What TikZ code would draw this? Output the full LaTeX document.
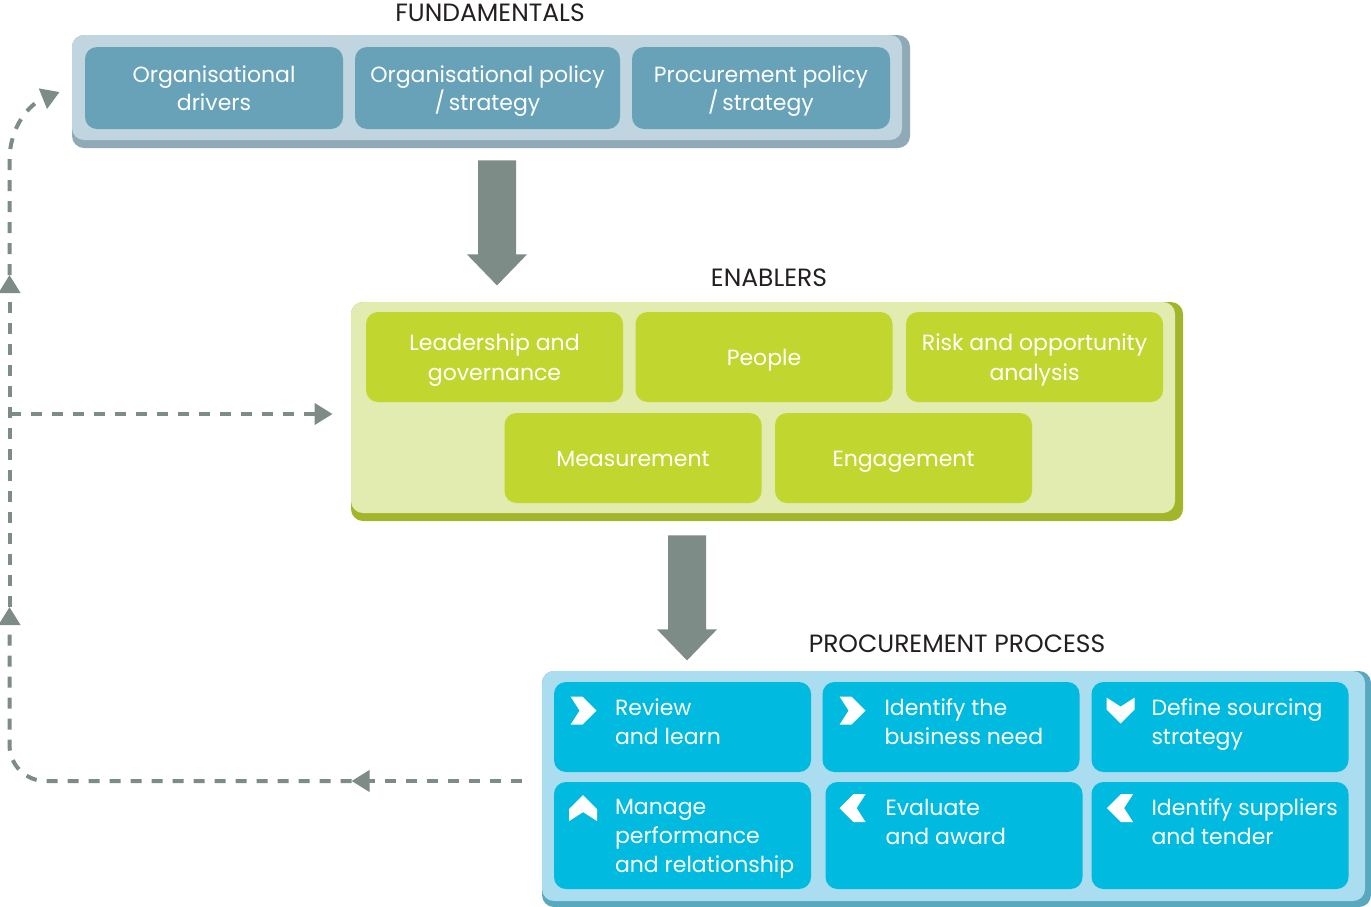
\documentclass[tikz,border=0pt]{standalone}
\usepackage{fontspec}
\setmainfont{Poppins}
\usetikzlibrary{calc}
\usetikzlibrary{arrows.meta}

\definecolor{fundLight}{HTML}{C0D5DF}
\definecolor{fundShade}{HTML}{8FA9B6}
\definecolor{fundItemFill}{HTML}{67A2B9}
\definecolor{enabLight}{HTML}{E2EBB0}
\definecolor{enabShade}{HTML}{A3B52A}
\definecolor{enabItemFill}{HTML}{C1D72F}
\definecolor{procLight}{HTML}{A9DDEF}
\definecolor{procShade}{HTML}{5AA8BE}
\definecolor{procItemFill}{HTML}{00BAE0}
\definecolor{flowGray}{HTML}{7D8C87}
\definecolor{titleInk}{HTML}{231F20}

\begin{document}
\begin{tikzpicture}[x=0.5pt, y=-0.5pt,
    heading/.style={anchor=base, inner sep=0pt, text=titleInk, font=\fontsize{12.5}{15}\selectfont},
    panel/.style={rectangle, rounded corners=6pt, inner sep=0pt},
    fundItem/.style={panel, fill=fundItemFill, text=white, align=center,
      font=\fontsize{11}{14}\selectfont, minimum width=129pt, minimum height=41pt},
    enabItem/.style={panel, fill=enabItemFill, text=white, align=center,
      font=\fontsize{11}{15}\selectfont, minimum width=128.5pt, minimum height=45pt},
    oneLine/.style={text height=8pt, text depth=0pt},
    procItem/.style={panel, fill=procItemFill, minimum width=128.5pt, minimum height=45pt},
    procText/.style={anchor=north west, inner sep=0pt, text=white, align=left,
      font=\fontsize{11}{14.5}\selectfont},
    feedback/.style={draw=flowGray, line width=2pt, dash pattern=on 5.5pt off 5pt,
      -{Triangle[length=9pt,width=10.5pt]}},
    chevron/.pic={\fill[white] (-13,-14) -- (-1,-14) -- (13,0) -- (-1,14) -- (-13,14) -- (-4,0) -- cycle;}
    ]
    \useasboundingbox (0,0) rectangle (1371,906);

    % fundamentals
    \node[panel, fill=fundShade, minimum width=419pt, minimum height=56.5pt] (fundShadow) at (491,91.5) {};
    \node[panel, fill=fundLight, minimum width=415pt, minimum height=52.5pt] (fund) at (487,87.5) {};
    \node[heading] (fundTitle) at ($(fund.north)+(3,-13)$) {FUNDAMENTALS};
    \node[fundItem] (orgDrivers) at (214,88) {Organisational\\drivers};
    \node[fundItem, minimum width=132.5pt] (orgPolicy) at (487.5,88) {Organisational policy\\\smash{/\,strategy}};
    \node[fundItem] (procPolicy) at (761,88) {Procurement policy\\\smash{/\,strategy}};

    % enablers
    \node[panel, fill=enabShade, minimum width=416pt, minimum height=109.5pt] (enabShadow) at (767,411.5) {};
    \node[panel, fill=enabLight, minimum width=412pt, minimum height=105.5pt] (enab) at (763,407.5) {};
    \node[heading] (enabTitle) at ($(enab.north)+(6,-15)$) {ENABLERS};
    \node[enabItem] (leadership) at (494.5,357) {Leadership and\\\smash{governance}};
    \node[enabItem, oneLine] (people) at (764,357) {People};
    \node[enabItem] (risk) at (1034.5,357) {Risk and opportunity\\\smash{analysis}};
    \node[enabItem, oneLine] (measurement) at (633,458) {Measurement};
    \node[enabItem, oneLine] (engagement) at (903.5,458) {Engagement};

    % procurement process
    \node[panel, fill=procShade, minimum width=414.5pt, minimum height=118pt] (procShadow) at (956.5,789) {};
    \node[panel, fill=procLight, minimum width=411.5pt, minimum height=115pt] (proc) at (953.5,786) {};
    \node[heading] (procTitle) at ($(proc.north)+(3.5,-18)$) {PROCUREMENT PROCESS};
    \node[procItem] (review) at (682.5,727) {};
    \node[procItem] (needs) at (951,727) {};
    \node[procItem] (sourcing) at (1220,727) {};
    \node[procItem, minimum height=53.5pt] (manage) at (682.5,835.5) {};
    \node[procItem, minimum height=53.5pt] (evaluate) at (954,835.5) {};
    \node[procItem, minimum height=53.5pt] (suppliers) at (1220,835.5) {};

    \node[procText] (reviewText) at ($(review.north west)+(61,17)$) {Review\\and learn};
    \node[procText] (needsText) at ($(needs.north west)+(62,17)$) {Identify the\\business need};
    \node[procText] (sourcingText) at ($(sourcing.north west)+(60,17)$) {Define sourcing\\strategy};
    \node[procText] (manageText) at ($(manage.north west)+(61,17)$) {Manage\\performance\\and relationship};
    \node[procText] (evaluateText) at ($(evaluate.north west)+(60,17)$) {Evaluate\\and award};
    \node[procText] (suppliersText) at ($(suppliers.north west)+(60,17)$) {Identify suppliers\\and tender};

    \pic at ($(review.north west)+(30,29)$) {chevron};
    \pic at ($(needs.north west)+(30.5,29)$) {chevron};
    \pic[rotate=-90] at ($(sourcing.north west)+(29.5,29)$) {chevron};
    \pic[rotate=90] at ($(manage.north west)+(29.5,26.5)$) {chevron};
    \pic[rotate=180] at ($(evaluate.north west)+(27.5,26.5)$) {chevron};
    \pic[rotate=180] at ($(suppliers.north west)+(29,26.5)$) {chevron};

    % block arrows
    \coordinate (drop1) at ($(fund.south)+(10,20)$);
    \coordinate (drop2) at ($(enab.south)+(-76,22)$);
    \fill[flowGray] (drop1) ++(-19,0) -- ++(38,0) -- ++(0,94) -- ++(11,0) -- ++(-30,31) -- ++(-30,-31) -- ++(11,0) -- cycle;
    \fill[flowGray] (drop2) ++(-19,0) -- ++(38,0) -- ++(0,94) -- ++(11,0) -- ++(-30,31) -- ++(-30,-31) -- ++(11,0) -- cycle;

    % feedback loop
    \coordinate (procOut) at ($(proc.west)+(-20,-5)$);
    \coordinate (enabIn) at ($(enab.west)+(-18,6.5)$);
    \coordinate (fundIn) at ($(fund.west)+(-12,4.5)$);
    \coordinate (rail) at (9.5,781);
    \coordinate (turn) at ($(procOut)+(-170,0)$);
    \coordinate (railLow) at ($(rail)+(0,-174)$);
    \coordinate (railHigh) at ($(rail)+(0,-506)$);
    \coordinate (railTop) at ($(rail)+(0,-620)$);
    \draw[feedback] (procOut) -- (turn);
    \draw[feedback, rounded corners=18pt] (turn) -| (railLow);
    \draw[feedback] (railLow) -- (railHigh);
    \draw[feedback] (rail |- enabIn) -- (enabIn);
    \draw[feedback] (railHigh) -- (railTop) .. controls +(0,-35) and +(-30,12) .. (fundIn);
  \end{tikzpicture}
\end{document}
